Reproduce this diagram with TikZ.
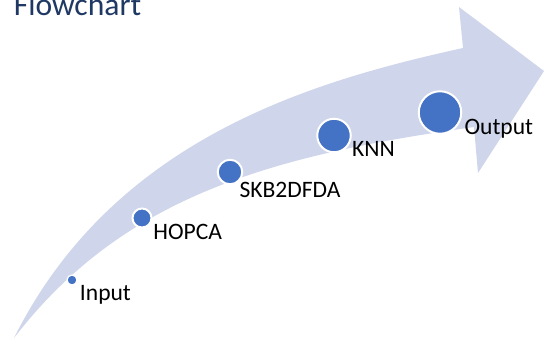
\documentclass[tikz,border=0pt]{standalone}
\usepackage{fontspec}
\setmainfont{Carlito}
\usepackage{xcolor}
\usetikzlibrary{positioning}
\definecolor{arrowfill}{HTML}{CFD5EA}
\definecolor{dotblue}{HTML}{4472C4}
\definecolor{titleblue}{HTML}{1F3864}

\begin{document}
\begin{tikzpicture}[x=0.02cm, y=-0.02cm,
    stagedot/.style={circle, fill=dotblue, draw=white, line width=0.04cm, inner sep=0pt},
    stagelabel/.style={inner sep=0pt, font=\fontsize{13.4}{16}\selectfont}]
          \useasboundingbox (0,0) rectangle (544,362);
          % curved block arrow
          \fill[arrowfill] (14,338) .. controls (124,195) and (274,155) .. (474,127)
            -- (478,173) -- (544,71) -- (459,7) -- (463,48)
            .. controls (313,81) and (114,138) .. (14,338) -- cycle;
          \node[inner sep=0pt, anchor=base west, text=titleblue, font=\fontsize{18}{22}\selectfont] (title) at (13.5,15) {Flowchart};
          % stages
          \node[stagedot, minimum size=0.2cm, line width=0.025cm] (input) at (72,280) {};
          \node[stagedot, minimum size=0.38cm] (hopca) at (142,218) {};
          \node[stagedot, minimum size=0.49cm] (skb) at (230,172) {};
          \node[stagedot, minimum size=0.67cm] (knn) at (334,135.5) {};
          \node[stagedot, minimum size=0.85cm] (output) at (440,112.5) {};
          \node[stagelabel, right=0.04cm of input, anchor=base west, yshift=-0.40cm] (inputlbl) {Input};
          \node[stagelabel, right=0.01cm of hopca, anchor=base west, yshift=-0.42cm] (hopcalbl) {HOPCA};
          \node[stagelabel, right=-0.08cm of skb, anchor=base west, yshift=-0.52cm] (skblbl) {SKB2DFDA};
          \node[stagelabel, right=0cm of knn, anchor=base west, yshift=-0.42cm] (knnlbl) {KNN};
          \node[stagelabel, right=0.04cm of output, anchor=base west, yshift=-0.45cm] (outputlbl) {Output};
        \end{tikzpicture}
\end{document}
